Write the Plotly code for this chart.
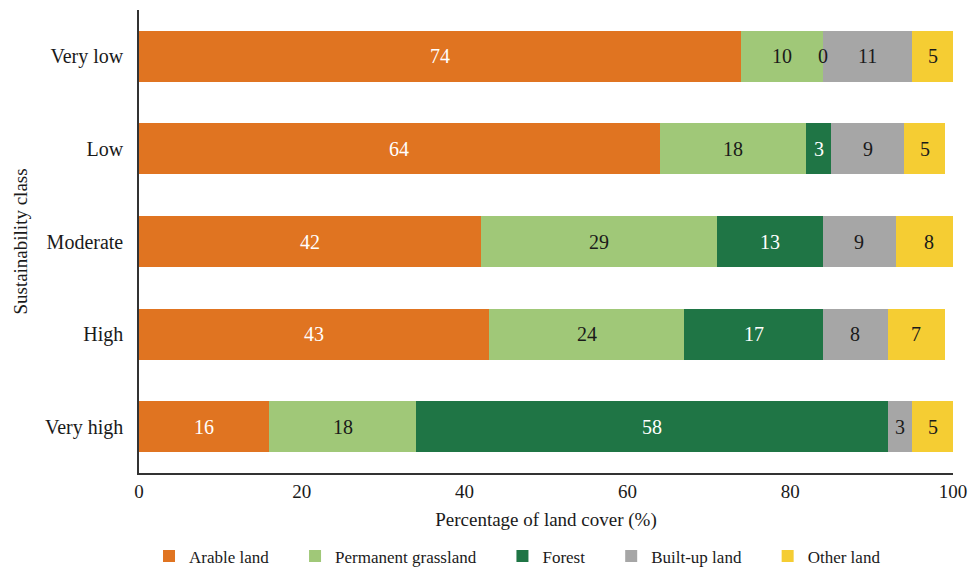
import plotly.graph_objects as go

# Land-cover share (%) per sustainability class
classes = ["Very low", "Low", "Moderate", "High", "Very high"]
arable = [74, 64, 42, 43, 16]
grassland = [10, 18, 29, 24, 18]
forest = [0, 3, 13, 17, 58]
built_up = [11, 9, 9, 8, 3]
other = [5, 5, 8, 7, 5]
x_ticks = [0, 20, 40, 60, 80, 100]

series = [
    ("Arable land", arable, "#E07421", "white"),
    ("Permanent grassland", grassland, "#A0C878", "#1a1a1a"),
    ("Forest", forest, "#1F7545", "white"),
    ("Built-up land", built_up, "#A6A6A6", "#1a1a1a"),
    ("Other land", other, "#F5CD33", "#1a1a1a"),
]

FONT = "Liberation Serif"
PAD = "\u00a0" * 5  # extra room between legend entries

fig = go.Figure()
annotations = []
starts = [0.0] * len(classes)
for k, (name, vals, color, tcolor) in enumerate(series):
    fig.add_trace(go.Bar(
        y=classes, x=vals, name=name + (PAD if k < len(series) - 1 else ""),
        orientation="h",
        marker=dict(color=color, line=dict(width=0)),
        hovertemplate=name + ": %{x}<extra></extra>",
    ))
    # value labels centred in each segment (also for zero-width segments)
    for i, v in enumerate(vals):
        annotations.append(dict(
            x=starts[i] + v / 2, y=classes[i], xref="x", yref="y",
            text=str(v), showarrow=False,
            font=dict(family=FONT, size=20, color=tcolor if v > 0 else "#1a1a1a"),
        ))
        starts[i] += v

fig.update_layout(
    barmode="stack",
    bargap=0.45,
    width=968, height=567,
    margin=dict(l=139, r=15, t=10, b=94, autoexpand=False),
    plot_bgcolor="white", paper_bgcolor="white",
    font=dict(family=FONT, size=18, color="#1a1a1a"),
    annotations=annotations,
    legend=dict(
        orientation="h", x=0.465, xanchor="center", y=-0.18, yanchor="middle",
        font=dict(family=FONT, size=17), traceorder="normal", itemwidth=30,
    ),
    xaxis=dict(
        range=[0, 100], tickvals=x_ticks, ticklabeloverflow="allow",
        showgrid=False, zeroline=False,
        showline=True, linecolor="#333333", linewidth=1.5,
        ticks="", tickfont=dict(size=19),
        title=dict(text="Percentage of land cover (%)", font=dict(size=19), standoff=12),
    ),
    yaxis=dict(
        categoryorder="array", categoryarray=classes[::-1],
        showgrid=False, zeroline=False,
        showline=True, linecolor="#333333", linewidth=1.5,
        ticks="", tickfont=dict(size=20), ticksuffix="  ",
        title=dict(text="Sustainability class", font=dict(size=19), standoff=12),
    ),
)

fig.write_html("out.html")
